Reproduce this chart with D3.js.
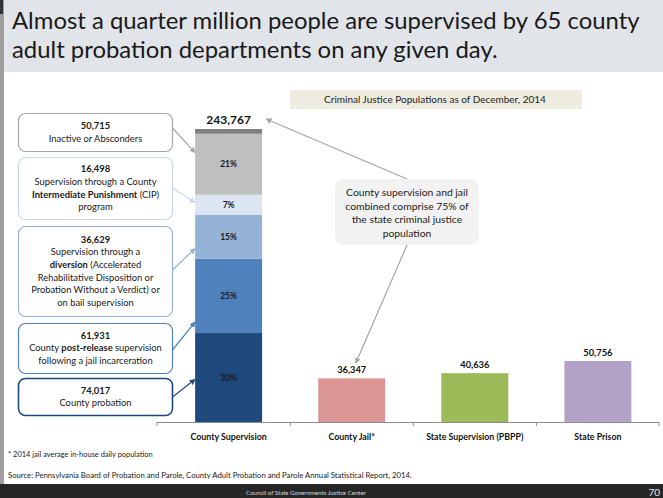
<!DOCTYPE html>
<html>
<head>
<meta charset="utf-8">
<script src="https://cdn.jsdelivr.net/npm/d3@7/dist/d3.min.js"></script>
<style>
  html, body { margin: 0; padding: 0; background: #fff; }
  svg { display: block; font-family: Lato, "Open Sans", sans-serif; }
</style>
</head>
<body>
<svg id="chart" width="663" height="498"></svg>
<script>
// ---------------- DATA ----------------
const titleLines = [
  "Almost a quarter million people are supervised by 65 county",
  "adult probation departments on any given day."
];
const chartHeader = "Criminal Justice Populations as of December, 2014";
const categories = ["County Supervision", "County Jail*", "State Supervision (PBPP)", "State Prison"];
const totals = [243767, 36347, 40636, 50756];
const totalLabels = ["243,767", "36,347", "40,636", "50,756"];
const barColors = ["#7f7f7f", "#d99694", "#9bbb59", "#b3a2c7"];

// stacked segments of County Supervision (bottom to top)
const segNames = ["County probation", "Post-release", "Diversion", "CIP", "Inactive or Absconders", "Other"];
const segValues = [74017, 61931, 36629, 16498, 50715, 3977];
const segPct = ["30%", "25%", "15%", "7%", "21%", ""];
const segColors = ["#1f497d", "#4f81bd", "#95b3d7", "#dce6f2", "#bfbfbf", "#7f7f7f"];

// callouts (top to bottom), each line = list of [text, bold]
const callouts = [
  { seg: 4, border: "#a6a6a6", lines: [[["50,715", true]], [["Inactive or Absconders", false]]] },
  { seg: 3, border: "#c6d9f1", lines: [[["16,498", true]], [["Supervision through a County", false]],
      [["Intermediate Punishment", true], [" (CIP)", false]], [["program", false]]] },
  { seg: 2, border: "#95b3d7", lines: [[["36,629", true]], [["Supervision through a", false]],
      [["diversion", true], [" (Accelerated", false]], [["Rehabilitative Disposition or", false]],
      [["Probation Without a Verdict) or", false]], [["on bail supervision", false]]] },
  { seg: 1, border: "#4f81bd", lines: [[["61,931", true]], [["County ", false], ["post-release", true], [" supervision", false]],
      [["following a jail incarceration", false]]] },
  { seg: 0, border: "#1f497d", lines: [[["74,017", true]], [["County probation", false]]] }
];
const calloutPos = [0.69, 0.6, 0.23, 0.15, 0.48]; // where connector hits inside segment

const noteLines = ["County supervision and jail", "combined comprise 75% of", "the state criminal justice", "population"];
const footnote = "* 2014 jail average in-house daily population";
const source = "Source: Pennsylvania Board of Probation and Parole, County Adult Probation and Parole Annual Statistical Report, 2014.";
const footerText = "Council of State Governments Justice Center";
const pageNum = "70";

// ---------------- DRAW ----------------
const svg = d3.select("#chart");
const W = 663, H = 498;

function fitText(sel, w) {
  const l = sel.node().getComputedTextLength();
  const fs = parseFloat(sel.attr("font-size"));
  sel.attr("font-size", (fs * w / l).toFixed(2));
  return fs * w / l;
}

// page background pieces
svg.append("rect").attr("x", 0).attr("y", 0).attr("width", W).attr("height", 72).attr("fill", "#e1e4e8");
svg.append("rect").attr("x", 0).attr("y", 0).attr("width", 4).attr("height", 484).attr("fill", "#9e9e9e");
svg.append("rect").attr("x", 0).attr("y", 0).attr("width", 3).attr("height", 14).attr("fill", "#333");

// title
const t1 = svg.append("text").attr("x", 12).attr("y", 29).attr("font-size", 22).attr("fill", "#1a1a1a").text(titleLines[0]);
const tfs = fitText(t1, 628);
svg.append("text").attr("x", 12).attr("y", 58).attr("font-size", tfs).attr("fill", "#1a1a1a").text(titleLines[1]);

// scales
const x = d3.scaleBand().domain(categories).range([157, 659])
  .paddingInner(0.456).paddingOuter(0.267).align(0.58);
const y = d3.scaleLinear().domain([0, totals[0]]).range([422, 129]);
const bw = x.bandwidth();

// header label
const hdr = svg.append("g");
hdr.append("rect").attr("x", 290).attr("y", 90).attr("width", 292).attr("height", 19).attr("fill", "#eeece1");
const ht = hdr.append("text").attr("x", 435).attr("y", 103).attr("text-anchor", "middle").attr("font-size", 8).attr("fill", "#222").text(chartHeader);
fitText(ht, 222);

// stacked bar
let cum = 0;
const stack = segValues.map((v, i) => { const d = { i, y0: cum, y1: cum + v }; cum += v; return d; });
const cx0 = x(categories[0]);
svg.append("g").selectAll("rect").data(stack).join("rect")
  .attr("x", cx0).attr("width", bw)
  .attr("y", d => y(d.y1)).attr("height", d => y(d.y0) - y(d.y1))
  .attr("fill", d => segColors[d.i]);
svg.append("g").selectAll("text").data(stack.filter(d => segPct[d.i])).join("text")
  .attr("x", cx0 + bw / 2).attr("y", d => (y(d.y0) + y(d.y1)) / 2 + 3)
  .attr("text-anchor", "middle").attr("font-size", 8.5).attr("font-weight", "bold").attr("fill", "#1a1a1a")
  .text(d => segPct[d.i]);

// other bars
const rest = categories.slice(1).map((c, k) => ({ c, v: totals[k + 1], i: k + 1 }));
svg.append("g").selectAll("rect").data(rest).join("rect")
  .attr("x", d => x(d.c)).attr("width", bw)
  .attr("y", d => y(d.v)).attr("height", d => y(0) - y(d.v))
  .attr("fill", d => barColors[d.i]);

// value labels
svg.append("text").attr("x", cx0 + bw / 2).attr("y", y(totals[0]) - 5).attr("text-anchor", "middle")
  .attr("font-size", 12).attr("font-weight", "bold").attr("fill", "#111").text(totalLabels[0]);
svg.append("g").selectAll("text").data(rest).join("text")
  .attr("x", d => x(d.c) + bw / 2).attr("y", d => y(d.v) - 5).attr("text-anchor", "middle")
  .attr("font-size", 9.3).attr("font-weight", "bold").attr("fill", "#111").text(d => totalLabels[d.i]);

// axis
const ax = svg.append("g");
ax.append("line").attr("x1", 157).attr("x2", 659).attr("y1", 422.5).attr("y2", 422.5).attr("stroke", "#8c8c8c").attr("stroke-width", 1);
const tickXs = [157].concat(categories.slice(0, 3).map(c => x(c) + bw / 2 + x.step() / 2)).concat([659]);
ax.selectAll("line.t").data(tickXs).join("line").attr("class", "t")
  .attr("x1", d => d).attr("x2", d => d).attr("y1", 422).attr("y2", 426).attr("stroke", "#8c8c8c");
ax.selectAll("text").data(categories).join("text")
  .attr("x", d => x(d) + bw / 2).attr("y", 439.5).attr("text-anchor", "middle")
  .attr("font-size", 8.8).attr("font-weight", "bold").attr("fill", "#111").text(d => d);

// markers
const defs = svg.append("defs");
function marker(id, color) {
  defs.append("marker").attr("id", id).attr("viewBox", "0 0 10 10").attr("refX", 9).attr("refY", 5)
    .attr("markerWidth", 5).attr("markerHeight", 5).attr("orient", "auto")
    .append("path").attr("d", "M0,0L10,5L0,10z").attr("fill", color);
}

// callout boxes
const boxes = [
  { y: 113, h: 38 }, { y: 157, h: 62 }, { y: 226, h: 90 }, { y: 323, h: 50 }, { y: 378, h: 37 }
];
const lineH = 12.6;
// measure body font size so that one reference line matches its width
const probe = svg.append("text").attr("font-size", 8).text("Supervision through a County");
const bodyFs = 8 * 122 / probe.node().getComputedTextLength();
probe.remove();
callouts.forEach((co, k) => {
  const b = boxes[k];
  const g = svg.append("g");
  g.append("rect").attr("x", 18.5).attr("y", b.y + 0.5).attr("width", 154).attr("height", b.h)
    .attr("rx", 7).attr("fill", "#fff").attr("stroke", co.border).attr("stroke-width", k === 4 ? 1.6 : 1.2);
  const n = co.lines.length;
  const startY = b.y + b.h / 2 - (n - 1) * lineH / 2 + 3.3;
  co.lines.forEach((ln, j) => {
    const t = g.append("text").attr("x", 95.5).attr("y", startY + j * lineH).attr("text-anchor", "middle")
      .attr("font-size", j === 0 ? 9.4 : bodyFs).attr("fill", "#1a1a1a");
    ln.forEach(([s, bold]) => t.append("tspan").attr("font-weight", bold ? "bold" : "normal").text(s));
  });
  // connector
  marker("m" + k, co.border);
  const sd = stack[co.seg];
  const ty = y(sd.y0 + (sd.y1 - sd.y0) * calloutPos[k]);
  const sy = k === 2 ? 270 : (k === 3 ? 350 : (k === 4 ? 397 : b.y + b.h / 2 + (k === 1 ? 0 : -4)));
  g.append("line").attr("x1", 172.5).attr("y1", sy).attr("x2", cx0).attr("y2", ty)
    .attr("stroke", co.border).attr("stroke-width", 1.2).attr("marker-end", "url(#m" + k + ")");
});

// annotation note
marker("mg", "#a6a6a6");
const ng = svg.append("g");
ng.append("line").attr("x1", 407).attr("y1", 179).attr("x2", cx0 + bw + 4).attr("y2", y(totals[0]) - 10)
  .attr("stroke", "#a6a6a6").attr("stroke-width", 1.2).attr("marker-end", "url(#mg)");
ng.append("line").attr("x1", 407).attr("y1", 245).attr("x2", x(categories[1]) + bw / 2 + 4).attr("y2", y(totals[1]) - 15)
  .attr("stroke", "#a6a6a6").attr("stroke-width", 1.2).attr("marker-end", "url(#mg)");
ng.append("rect").attr("x", 335).attr("y", 179).attr("width", 144).attr("height", 66).attr("rx", 9).attr("fill", "#f2f2f2");
const nt = ng.selectAll("text").data(noteLines).join("text")
  .attr("x", 407).attr("y", (d, i) => 196 + i * 13.5).attr("text-anchor", "middle")
  .attr("font-size", 8.5).attr("fill", "#1a1a1a").text(d => d);
const nfs = 8.5 * 122 / nt.node().getComputedTextLength();
nt.attr("font-size", nfs);

// footnotes
const fn = svg.append("text").attr("x", 8).attr("y", 457).attr("font-size", 7).attr("fill", "#1a1a1a").text(footnote);
fitText(fn, 145);
const src = svg.append("text").attr("x", 8).attr("y", 478).attr("font-size", 6.5).attr("fill", "#1a1a1a").text(source);
fitText(src, 404);

// footer
svg.append("rect").attr("x", 0).attr("y", 484).attr("width", W).attr("height", 14).attr("fill", "#262626");
const ft = svg.append("text").attr("x", 306).attr("y", 494.5).attr("text-anchor", "middle").attr("font-size", 7)
  .attr("fill", "#d9d9d9").text(footerText);
fitText(ft, 120);
svg.append("text").attr("x", 660).attr("y", 495.5).attr("text-anchor", "end").attr("font-size", 10)
  .attr("fill", "#e6e6e6").text(pageNum);
</script>
</body>
</html>
